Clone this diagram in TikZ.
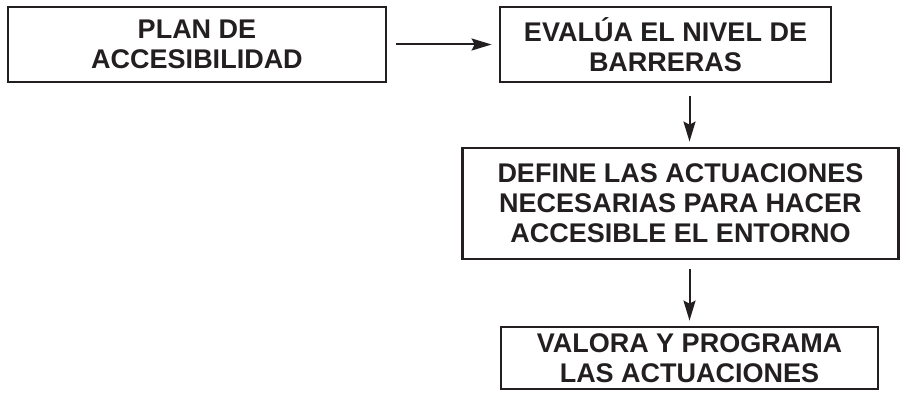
\documentclass[tikz,border=0pt]{standalone}
\usepackage{fontspec}
\setmainfont{Liberation Sans}
\usetikzlibrary{arrows.meta}
\definecolor{ink}{HTML}{231F20}
\begin{document}
\begin{tikzpicture}[x=1pt,y=-1pt,
  box/.style={draw=ink, line width=2.8pt, inner sep=0pt, align=center, text=ink,
    font=\fontsize{27}{30}\selectfont\bfseries},
  conn/.style={draw=ink, line width=2pt, -{Stealth[length=20pt,width=12pt,inset=3pt]}}]
\useasboundingbox (0,0) rectangle (901,401);
\node[box, minimum width=378pt, minimum height=75pt] (b1) at (197,44.5) {PLAN DE\\ACCESIBILIDAD};
\node[box, minimum width=331pt, minimum height=75pt] (b2) at (665.5,44.5) {EVALÚA EL NIVEL DE\\BARRERAS};
\node[box, minimum width=436pt, minimum height=111pt] (b3) at (680.5,203.5) {DEFINE LAS ACTUACIONES\\NECESARIAS PARA HACER\\ACCESIBLE EL ENTORNO};
\node[box, minimum width=377pt, minimum height=62pt] (b4) at (689.5,358) {VALORA Y PROGRAMA\\LAS ACTUACIONES};
\draw[conn, shorten <=9pt, shorten >=7pt] (b1.east) -- (b2.west);
\draw[conn, shorten <=13pt, shorten >=5pt] (b2.south -| b4.north) -- (b3.north -| b4.north);
\draw[conn, shorten <=9pt, shorten >=5pt] (b3.south -| b4.north) -- (b4.north);
\end{tikzpicture}
\end{document}
